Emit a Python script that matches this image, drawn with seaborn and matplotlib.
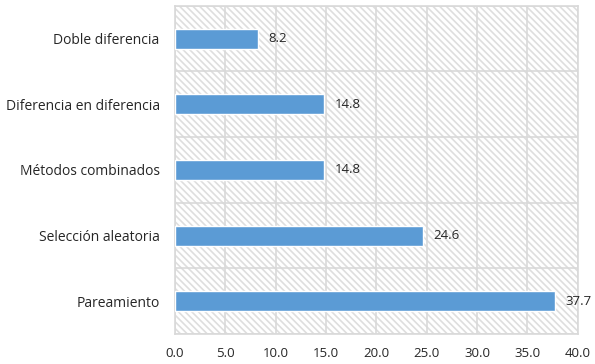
import numpy as np
import pandas as pd
import seaborn as sns
import matplotlib.pyplot as plt
from matplotlib.patches import Rectangle

# data
metodos = ['Doble diferencia', 'Diferencia en diferencia', 'Métodos combinados',
           'Selección aleatoria', 'Pareamiento']
valores = [8.2, 14.8, 14.8, 24.6, 37.7]
xticks = [0, 5, 10, 15, 20, 25, 30, 35, 40]

df = pd.DataFrame({'metodo': metodos, 'valor': valores})

sns.set_style('white')
plt.rcParams['font.family'] = ['Open Sans', 'DejaVu Sans']
plt.rcParams['hatch.linewidth'] = 1.2

fig = plt.figure(figsize=(5.95, 3.64), dpi=100)
ax = fig.add_axes([0.294, 0.082, 0.677, 0.902])

# hatched background
ax.add_patch(Rectangle((0, 0), 1, 1, transform=ax.transAxes, facecolor='white',
                       edgecolor='#dedede', hatch='\\' * 5, linewidth=0, zorder=0))

sns.barplot(data=df, x='valor', y='metodo', order=metodos, color='#5b9bd5',
            width=0.3, saturation=1, ax=ax, zorder=3)

ax.bar_label(ax.containers[0], fmt='%.1f', padding=8, fontsize=9.5, color='#262626')

ax.set_xlim(0, 40)
ax.set_ylim(len(metodos) - 0.5, -0.5)
ax.set_xticks(xticks)
ax.set_xticklabels([f'{t:.1f}' for t in xticks])
ax.set_yticks(np.arange(-0.5, len(metodos)), minor=True)
ax.set_xlabel('')
ax.set_ylabel('')

ax.grid(True, axis='x', color='#d9d9d9', linewidth=1.2, zorder=1)
ax.grid(True, axis='y', which='minor', color='#d9d9d9', linewidth=1.2, zorder=1)
ax.set_axisbelow(True)
for s in ax.spines.values():
    s.set_color('#d9d9d9')
    s.set_linewidth(1.2)

ax.tick_params(axis='x', length=0, pad=9, labelsize=9.5, labelcolor='#262626')
ax.tick_params(axis='y', which='major', length=0, pad=11, labelsize=10, labelcolor='#262626')
ax.tick_params(axis='y', which='minor', length=5, width=1.2, color='#d9d9d9')

fig.savefig('out.png', dpi=100)
